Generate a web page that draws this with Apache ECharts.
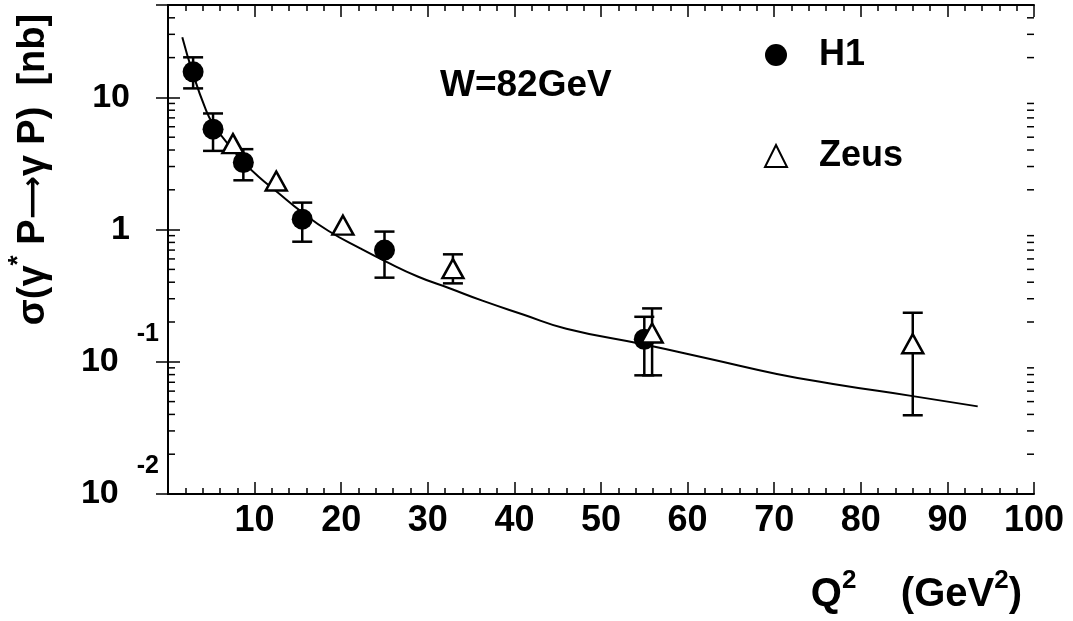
<!DOCTYPE html>
<html>
<head>
<meta charset="utf-8">
<script src="https://cdn.jsdelivr.net/npm/echarts@6/dist/echarts.min.js"></script>
<style>
  html, body { margin: 0; padding: 0; background: #fff; }
  #chart { width: 1073px; height: 621px; }
</style>
</head>
<body>
<div id="chart"></div>
<script>
// H1 points: Q2, sigma, error bar low / high
const h1Q2 = [2.9, 5.2, 8.7, 15.5, 25, 55]
const h1Sigma = [15.6, 5.75, 3.22, 1.2, 0.70, 0.148]
const h1Low = [11.7, 3.94, 2.36, 0.81, 0.433, 0.079]
const h1High = [20.1, 7.56, 4.06, 1.60, 0.966, 0.219]

// Zeus points (first three have errors hidden by the marker)
const zeusQ2 = [7.5, 12.5, 20.2, 32.9, 55.9, 86]
const zeusSigma = [4.47, 2.33, 1.08, 0.507, 0.165, 0.137]
const zeusLow = [null, null, null, 0.392, 0.079, 0.0394]
const zeusHigh = [null, null, null, 0.65, 0.2535, 0.235]

// curve
const fitQ2 = [1.65, 2.9, 4.3, 5.2, 7.5, 8.7, 10.5, 12.5, 15.5, 18.5, 22.2, 25, 28.9, 32.5, 36.3, 41, 46, 55, 62.6, 70.3, 76.8, 86, 93.5]
const fitSigma = [28.5, 15.0, 8.3, 6.3, 4.0, 3.25, 2.5, 1.95, 1.35, 0.98, 0.72, 0.58, 0.44, 0.36, 0.29, 0.228, 0.178, 0.135, 0.105, 0.081, 0.068, 0.055, 0.046]

// y axis tick labels (10^n written as base + exponent)
const yTickValues = [0.01, 0.1, 1, 10]
const yTickBase = ['10', '10', '1', '10']
const yTickExp = ['-2', '-1', '', '']
const yMinorTicks = [0.02, 0.03, 0.04, 0.05, 0.06, 0.07, 0.08, 0.09,
  0.2, 0.3, 0.4, 0.5, 0.6, 0.7, 0.8, 0.9,
  2, 3, 4, 5, 6, 7, 8, 9,
  20, 30, 40]

const FONT = '"Liberation Sans", Arial, sans-serif'
const black = '#000'

const chart = echarts.init(document.getElementById('chart'))

function errData (xs, lo, hi) {
  const out = []
  xs.forEach((x, i) => {
    if (lo[i] != null) out.push([x, lo[i], hi[i]])
  })
  return out
}

function yLabel (v) {
  const i = yTickValues.findIndex(t => Math.abs(Math.log10(t) - Math.log10(v)) < 1e-6)
  if (i < 0) return ''
  if (yTickExp[i]) return '{b|' + yTickBase[i] + '}{e|' + yTickExp[i] + '}'
  return '{c|' + yTickBase[i] + '}'
}

const tickLine = { lineStyle: { color: black, width: 1.5 } }

const option = {
  backgroundColor: '#fff',
  animation: false,
  grid: {
    left: 168,
    right: 39,
    top: 5,
    bottom: 127,
    outerBoundsMode: 'none'
  },
  title: {
    text: 'W=82GeV',
    left: 440,
    top: 67,
    padding: 0,
    textStyle: { fontFamily: FONT, fontWeight: 'bold', fontSize: 37, color: black }
  },
  legend: {
    orient: 'vertical',
    left: 764,
    top: 33,
    padding: 0,
    itemWidth: 22,
    itemHeight: 22,
    itemGap: 57,
    data: ['H1', 'Zeus'],
    textStyle: {
      fontFamily: FONT,
      fontWeight: 'bold',
      fontSize: 36,
      lineHeight: 44,
      color: black,
      padding: [0, 0, 0, 27]
    }
  },
  xAxis: [
    {
      type: 'value',
      min: 0,
      max: 100,
      interval: 10,
      position: 'bottom',
      name: '{q|Q}{s|2}{q|    (GeV}{s|2}{q|)}',
      nameLocation: 'end',
      nameGap: -12,
      nameTextStyle: {
        align: 'right',
        verticalAlign: 'top',
        padding: [74, 0, 0, 0],
        rich: {
          q: { fontFamily: FONT, fontWeight: 'bold', fontSize: 40, color: black },
          s: { fontFamily: FONT, fontWeight: 'bold', fontSize: 26, color: black, padding: [0, 0, 28, 0] }
        }
      },
      axisLine: { lineStyle: { color: black, width: 2 } },
      axisTick: { inside: true, length: 12, lineStyle: { color: black, width: 1.5 } },
      minorTick: Object.assign({ show: true, splitNumber: 5, length: 6 }, tickLine),
      splitLine: { show: false },
      axisLabel: {
        margin: 9,
        fontFamily: FONT,
        fontWeight: 'bold',
        fontSize: 36,
        color: black,
        formatter: v => (v === 0 ? '' : String(v))
      }
    },
    {
      type: 'value',
      min: 0,
      max: 100,
      interval: 10,
      position: 'top',
      axisLine: { lineStyle: { color: black, width: 2 } },
      axisTick: { inside: true, length: 12, lineStyle: { color: black, width: 1.5 } },
      minorTick: Object.assign({ show: true, splitNumber: 5, length: 6 }, tickLine),
      splitLine: { show: false },
      axisLabel: { show: false }
    }
  ],
  yAxis: [
    {
      type: 'log',
      logBase: 10,
      min: 0.01,
      max: 50,
      position: 'left',
      name: '{a|σ(γ}{s|*}{a| P}{r|⟶}{a|γ P)  [nb]}',
      nameLocation: 'middle',
      nameGap: 106,
      nameTextStyle: {
        padding: [0, 0, 0, 160],
        rich: {
          a: { fontFamily: FONT, fontWeight: 'bold', fontSize: 38, color: black },
          r: { fontFamily: '"DejaVu Sans", sans-serif', fontWeight: 'bold', fontSize: 30, color: black },
          s: { fontFamily: FONT, fontWeight: 'bold', fontSize: 26, color: black, padding: [0, 0, 30, 0] }
        }
      },
      axisLine: { lineStyle: { color: black, width: 2 } },
      axisTick: { inside: true, length: 12, lineStyle: { color: black, width: 1.5 } },
      splitLine: { show: false },
      axisLabel: {
        margin: 9,
        formatter: yLabel,
        rich: {
          b: { fontFamily: FONT, fontWeight: 'bold', fontSize: 34, color: black },
          c: { fontFamily: FONT, fontWeight: 'bold', fontSize: 34, color: black, padding: [0, 29, 0, 0] },
          e: { fontFamily: FONT, fontWeight: 'bold', fontSize: 25, color: black, padding: [0, 0, 56, 18] }
        }
      }
    },
    {
      type: 'log',
      logBase: 10,
      min: 0.01,
      max: 50,
      position: 'right',
      axisLine: { lineStyle: { color: black, width: 2 } },
      axisTick: { inside: true, length: 12, lineStyle: { color: black, width: 1.5 } },
      splitLine: { show: false },
      axisLabel: { show: false }
    }
  ],
  series: [
    {
      name: 'fit',
      type: 'line',
      data: fitQ2.map((x, i) => [x, fitSigma[i]]),
      smooth: 0.5,
      showSymbol: false,
      lineStyle: { color: black, width: 2 },
      z: 2
    },
    {
      // log-axis minor ticks (2..9 per decade) on both frame sides
      name: 'yMinor',
      type: 'custom',
      data: yMinorTicks.map(v => [0, v]),
      silent: true,
      z: 6,
      renderItem (params, api) {
        const y = api.coord([0, api.value(1)])[1]
        const x0 = params.coordSys.x
        const x1 = x0 + params.coordSys.width
        const st = { stroke: black, lineWidth: 1.5 }
        return {
          type: 'group',
          children: [
            { type: 'line', shape: { x1: x0, y1: y, x2: x0 + 7, y2: y }, style: st },
            { type: 'line', shape: { x1: x1, y1: y, x2: x1 - 7, y2: y }, style: st }
          ]
        }
      }
    },
    {
      name: 'err',
      type: 'custom',
      data: errData(h1Q2, h1Low, h1High).concat(errData(zeusQ2, zeusLow, zeusHigh)),
      z: 3,
      renderItem (params, api) {
        const x = api.value(0)
        const pLo = api.coord([x, api.value(1)])
        const pHi = api.coord([x, api.value(2)])
        const w = 10
        const st = { stroke: black, lineWidth: 2.5 }
        return {
          type: 'group',
          children: [
            { type: 'line', shape: { x1: pLo[0], y1: pLo[1], x2: pHi[0], y2: pHi[1] }, style: st },
            { type: 'line', shape: { x1: pLo[0] - w, y1: pLo[1], x2: pLo[0] + w, y2: pLo[1] }, style: st },
            { type: 'line', shape: { x1: pHi[0] - w, y1: pHi[1], x2: pHi[0] + w, y2: pHi[1] }, style: st }
          ]
        }
      }
    },
    {
      name: 'H1',
      type: 'scatter',
      data: h1Q2.map((x, i) => [x, h1Sigma[i]]),
      symbol: 'circle',
      symbolSize: 21,
      itemStyle: { color: black, opacity: 1 },
      z: 4
    },
    {
      name: 'Zeus',
      type: 'scatter',
      data: zeusQ2.map((x, i) => [x, zeusSigma[i]]),
      symbol: 'triangle',
      symbolSize: [21, 19],
      itemStyle: { color: '#fff', borderColor: black, borderWidth: 2.5, opacity: 1 },
      z: 5
    }
  ]
}

chart.setOption(option)
window.addEventListener('resize', () => {
  chart.resize()
})
</script>
</body>
</html>
